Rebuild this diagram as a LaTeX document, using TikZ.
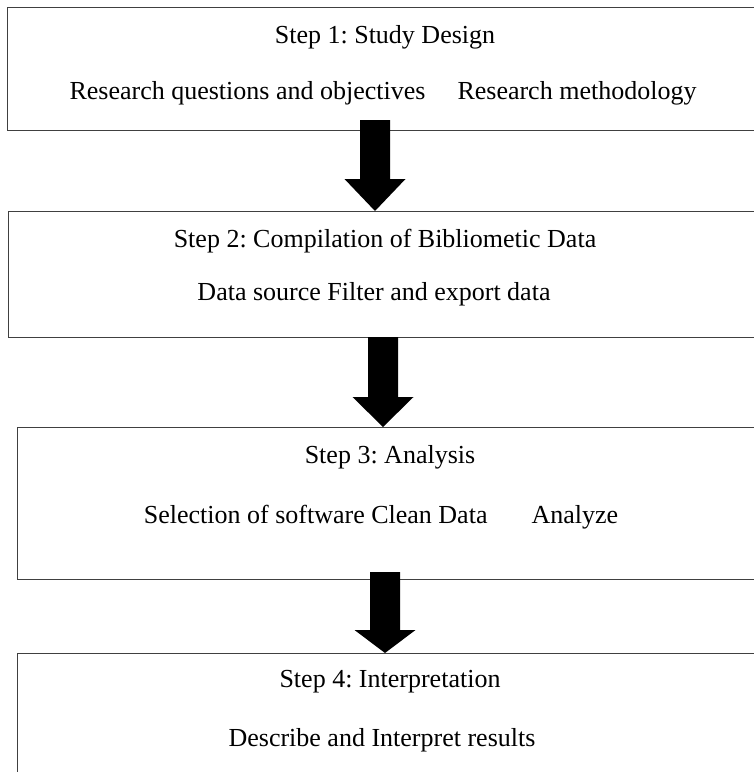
\documentclass[tikz,border=0pt]{standalone}
\usepackage{fontspec}
\setmainfont{Liberation Serif}
\usetikzlibrary{calc}
\frenchspacing
\tikzset{
  box/.style={draw=black!75, line width=1pt, fill=white, anchor=north west, outer sep=0pt, inner sep=0pt, minimum width=760pt},
  txt/.style={anchor=base, inner sep=0pt, font=\fontsize{26}{30}\selectfont},
  arrowfill/.style={fill=black}
}
% #1 x, #2 from node, #3 to node, #4 shaft extension above from.south, #5 head length
\newcommand{\blockarr}[5]{%
  \fill[arrowfill] let \p1=(#2.south), \p2=(#3.north) in
    (#1pt-15pt,\y1+#4pt) -- (#1pt+15pt,\y1+#4pt) -- (#1pt+15pt,\y2+#5pt)
    -- (#1pt+30.5pt,\y2+#5pt) -- (#1pt,\y2) -- (#1pt-30.5pt,\y2+#5pt)
    -- (#1pt-15pt,\y2+#5pt) -- cycle;}
\begin{document}
\begin{tikzpicture}[x=1pt,y=-1pt]
\useasboundingbox (0,0) rectangle (754,772);
\clip (0,0) rectangle (754,772);
\fill[white] (0,0) rectangle (754,772);

\node[box, minimum height=123pt] (b1) at (7,7) {};
\node[box, minimum height=126pt] (b2) at (8,211) {};
\node[box, minimum height=152pt] (b3) at (17,427) {};
\node[box, minimum height=140pt] (b4) at (17,653) {};

\node[txt] (t1a) at (385,43) {Step 1: Study Design};
\node[txt] (t1b) at (383,99) {Research questions and objectives\hspace{32pt}Research methodology};
\node[txt] (t2a) at (385,247) {Step 2: Compilation of Bibliometic Data};
\node[txt] (t2b) at (374,300) {Data source Filter and export data};
\node[txt] (t3a) at (390,463) {Step 3: Analysis};
\node[txt] (t3b) at (381,523) {Selection of software Clean Data\hspace{44pt}Analyze};
\node[txt] (t4a) at (390,687) {Step 4: Interpretation};
\node[txt] (t4b) at (382,746) {Describe and Interpret results};

\blockarr{375}{b1}{b2}{10}{32}
\blockarr{383}{b2}{b3}{0}{30}
\blockarr{385}{b3}{b4}{7}{23}
\end{tikzpicture}
\end{document}
